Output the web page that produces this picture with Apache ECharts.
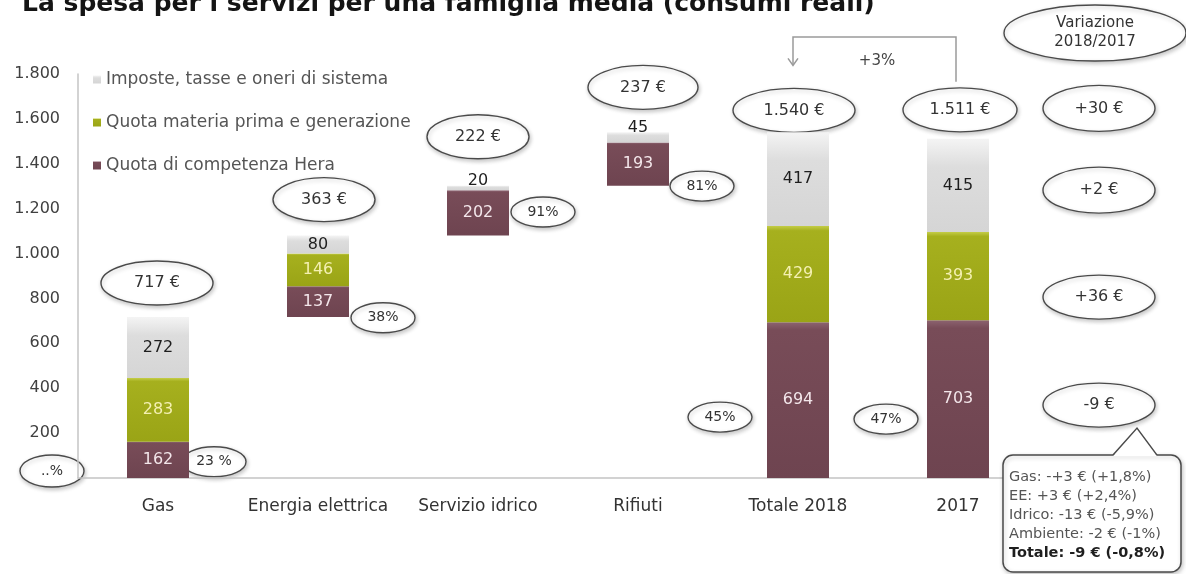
<!DOCTYPE html>
<html>
<head>
<meta charset="utf-8">
<script src="https://cdn.jsdelivr.net/npm/echarts@6/dist/echarts.min.js"></script>
<style>
  html, body { margin: 0; padding: 0; background: #ffffff; }
  #chart { width: 1186px; height: 574px; }
</style>
</head>
<body>
<div id="chart"></div>
<script>
// ---- data -------------------------------------------------------------
const categories = ['Gas', 'Energia elettrica', 'Servizio idrico', 'Rifiuti', 'Totale 2018', '2017'];
const isTotalColumn = [false, false, false, false, true, true];
const heraValues = [162, 137, 202, 193, 694, 703];
const materiaValues = [283, 146, 0, 0, 429, 393];
const imposteValues = [272, 80, 20, 45, 417, 415];
const totalLabels = ['717 €', '363 €', '222 €', '237 €', '1.540 €', '1.511 €'];
const heraShareLabels = ['23 %', '38%', '91%', '81%', '45%', '47%'];
const yTickValues = [0, 200, 400, 600, 800, 1000, 1200, 1400, 1600, 1800];
const variationTitle = 'Variazione\n2018/2017';
const variationTotal = '+30 €';
const variationImposte = '+2 €';
const variationMateria = '+36 €';
const variationHera = '-9 €';
const variationDetail = [
  'Gas: -+3 € (+1,8%)',
  'EE: +3 € (+2,4%)',
  'Idrico: -13 € (-5,9%)',
  'Ambiente: -2 € (-1%)',
  'Totale: -9 € (-0,8%)'
];
const growthLabel = '+3%';
const unknownShareLabel = '..%';
const titleText = 'La spesa per i servizi per una famiglia media (consumi reali)';

// ---- waterfall bases: each service starts where the previous one ends ----
const columnSums = categories.map((_, i) => heraValues[i] + materiaValues[i] + imposteValues[i]);
const baseValues = [];
let running = 0;
categories.forEach((_, i) => {
  if (isTotalColumn[i]) { baseValues.push(0); }
  else { baseValues.push(running); running += columnSums[i]; }
});
const topValues = categories.map((_, i) => baseValues[i] + columnSums[i]);

// ---- styling ------------------------------------------------------------
const FONT = '"DejaVu Sans", "Liberation Sans", Arial, sans-serif';
const grad = (stops) => new echarts.graphic.LinearGradient(0, 0, 0, 1,
  stops.map((c) => ({ offset: c[0], color: c[1] })));
const HERA = grad([[0, '#8c6370'], [0.05, '#784c58'], [1, '#6e4450']]);
const MATERIA = grad([[0, '#c4cd47'], [0.05, '#a6b01e'], [1, '#9aa416']]);
const IMPOSTE = grad([[0, '#f4f4f4'], [0.3, '#dddddd'], [1, '#d5d5d5']]);
const thousands = (v) => String(v).replace(/\B(?=(\d{3})+(?!\d))/g, '.');

const GRID = { left: 78, right: 148, top: 74, bottom: 96 };
const BAR_W = 62;

function segLabel(color) {
  return {
    show: true, position: 'inside', color: color,
    fontFamily: FONT, fontSize: 16,
    formatter: (p) => (p.value ? String(p.value) : '')
  };
}

const chart = echarts.init(document.getElementById('chart'), null, { renderer: 'canvas' });

const option = {
  backgroundColor: '#ffffff',
  animation: false,
  grid: GRID,
  legend: {
    orient: 'vertical', left: 88, top: 66,
    icon: 'rect', itemWidth: 8, itemHeight: 8, itemGap: 26,
    textStyle: { fontFamily: FONT, fontSize: 17, color: '#555555' },
    data: ['Imposte, tasse e oneri di sistema', 'Quota materia prima e generazione', 'Quota di competenza Hera']
  },
  xAxis: {
    type: 'category', data: categories,
    axisLine: { show: true, lineStyle: { color: '#c4c4c4', width: 1.5 } },
    axisTick: { show: false },
    axisLabel: { interval: 0, margin: 20, fontFamily: FONT, fontSize: 17, color: '#333333' }
  },
  yAxis: {
    type: 'value', min: yTickValues[0], max: yTickValues[yTickValues.length - 1], interval: 200,
    axisLine: { show: true, lineStyle: { color: '#c4c4c4', width: 1.5 } },
    axisTick: { show: false },
    splitLine: { show: false },
    axisLabel: {
      margin: 18, fontFamily: FONT, fontSize: 16, color: '#404040',
      formatter: (v) => (v === 0 ? '' : thousands(v))
    }
  },
  series: [
    {
      name: 'base', type: 'bar', stack: 'w', barWidth: BAR_W, silent: true,
      itemStyle: { color: 'rgba(0,0,0,0)' }, data: baseValues
    },
    {
      name: 'Quota di competenza Hera', type: 'bar', stack: 'w', barWidth: BAR_W,
      itemStyle: { color: HERA }, label: segLabel('#f3e6ea'), data: heraValues
    },
    {
      name: 'Quota materia prima e generazione', type: 'bar', stack: 'w', barWidth: BAR_W,
      itemStyle: { color: MATERIA }, label: segLabel('#f4f0b2'), data: materiaValues
    },
    {
      name: 'Imposte, tasse e oneri di sistema', type: 'bar', stack: 'w', barWidth: BAR_W,
      itemStyle: { color: IMPOSTE },
      data: imposteValues.map((v) => ({
        value: v,
        label: Object.assign(segLabel('#1e1e1e'), v < 50 ? { position: 'top', distance: -3 } : {})
      }))
    }
  ]
};
chart.setOption(option);

// ---- annotations anchored on the plotted bars ---------------------------
const px = (i, v) => chart.convertToPixel({ gridIndex: 0 }, [i, v]);
const SHADOW = { shadowBlur: 4, shadowColor: 'rgba(0,0,0,0.22)', shadowOffsetX: 1, shadowOffsetY: 2 };

function oval(cx, cy, rx, ry, text, fontSize) {
  return {
    type: 'group', children: [
      {
        type: 'ellipse', shape: { cx: cx, cy: cy, rx: rx, ry: ry },
        style: Object.assign({ fill: '#ffffff', stroke: '#4a4a4a', lineWidth: 1.4 }, SHADOW)
      },
      {
        type: 'text',
        style: {
          x: cx, y: cy, text: text, align: 'center', verticalAlign: 'middle',
          font: fontSize + 'px ' + FONT, fill: '#333333', lineHeight: fontSize + 4
        }
      }
    ]
  };
}

// offsets of the total bubbles from the top of each column
const totalOvalShift = [[-1, -34], [6, -36], [0, -49], [5, -45], [-4, -22], [2, -29]];
const totalOvalRx = [56, 51, 51, 55, 61, 57];
// offsets of the Hera-share bubbles from the middle of each Hera block
const shareOvalShift = [[56, 2], [65, 16], [65, -1], [64, 22], [-78, 17], [-72, 20]];

const g = [];
const totalOvalCenters = [];
categories.forEach((_, i) => {
  const t = px(i, topValues[i]);
  const c = [t[0] + totalOvalShift[i][0], t[1] + totalOvalShift[i][1]];
  totalOvalCenters.push(c);
  g.push(oval(c[0], c[1], totalOvalRx[i], 22, totalLabels[i], 16));
});
categories.forEach((_, i) => {
  const m = px(i, baseValues[i] + heraValues[i] / 2);
  g.push(oval(m[0] + shareOvalShift[i][0], m[1] + shareOvalShift[i][1], 32, 15, heraShareLabels[i], 14));
});

// share bubble with no value, beside the origin
const origin = px(0, 0);
g.push(oval(GRID.left - 26, origin[1] - 7, 32, 16, unknownShareLabel, 14));

// year-on-year connector between the two total columns
const c18 = totalOvalCenters[4], c17 = totalOvalCenters[5];
const lineTop = 37;
g.push({
  type: 'polyline',
  shape: { points: [[c17[0] - 4, c17[1] - 28], [c17[0] - 4, lineTop], [c18[0] - 1, lineTop], [c18[0] - 1, c18[1] - 46]] },
  style: { stroke: '#9a9a9a', lineWidth: 1.5, fill: null }
});
g.push({
  type: 'polyline',
  shape: { points: [[c18[0] - 6, c18[1] - 52], [c18[0] - 1, c18[1] - 45], [c18[0] + 4, c18[1] - 52]] },
  style: { stroke: '#9a9a9a', lineWidth: 1.5, fill: null }
});
g.push({
  type: 'text',
  style: {
    x: (c18[0] + c17[0]) / 2, y: 61, text: growthLabel, align: 'center', verticalAlign: 'middle',
    font: '15px ' + FONT, fill: '#444444'
  }
});

// variation column on the right
const varX = px(5, 0)[0] + 141;
g.push(oval(varX - 4, 33, 91, 28, variationTitle, 15));
g.push(oval(varX, totalOvalCenters[4][1] - 2, 56, 23, variationTotal, 16));
const midImp = px(4, heraValues[4] + materiaValues[4] + imposteValues[4] / 2)[1];
const midMat = px(4, heraValues[4] + materiaValues[4] / 2)[1];
const midHera = px(4, heraValues[4] / 2)[1];
g.push(oval(varX, midImp + 11, 56, 23, variationImposte, 16));
g.push(oval(varX, midMat + 23, 56, 22, variationMateria, 16));
const heraOvalY = midHera + 5;
g.push(oval(varX, heraOvalY, 56, 22, variationHera, 16));

// callout with the breakdown of the Hera share change
const bx0 = varX - 96, bx1 = varX + 82, by0 = heraOvalY + 50, by1 = 572;
const tipX = varX + 38, tipY = heraOvalY + 23;
g.push({
  type: 'rect', shape: { x: bx0, y: by0, width: bx1 - bx0, height: by1 - by0, r: 10 },
  style: Object.assign({ fill: '#ffffff', stroke: '#4a4a4a', lineWidth: 1.5 }, SHADOW)
});
g.push({
  type: 'polygon', shape: { points: [[tipX - 24, by0 + 1], [tipX, tipY], [tipX + 20, by0 + 1]] },
  style: { fill: '#ffffff', stroke: null }
});
g.push({
  type: 'polyline', shape: { points: [[tipX - 24, by0], [tipX, tipY], [tipX + 20, by0]] },
  style: { fill: null, stroke: '#4a4a4a', lineWidth: 1.5 }
});
variationDetail.forEach((line, k) => {
  const last = k === variationDetail.length - 1;
  g.push({
    type: 'text',
    style: {
      x: bx0 + 6, y: by0 + 22 + k * 19, text: line, align: 'left', verticalAlign: 'middle',
      font: (last ? 'bold ' : '') + '14.5px ' + FONT, fill: last ? '#1e1e1e' : '#555555'
    }
  });
});

// heading, partly above the top edge
g.push({
  type: 'text',
  style: {
    x: 22, y: 17, text: titleText, align: 'left', verticalAlign: 'bottom',
    font: 'bold 25px ' + FONT, fill: '#141414'
  }
});

// keep every annotation above the axes and bars
g.forEach((el) => { el.z = 100; });

chart.setOption({ graphic: { elements: g } });
</script>
</body>
</html>
